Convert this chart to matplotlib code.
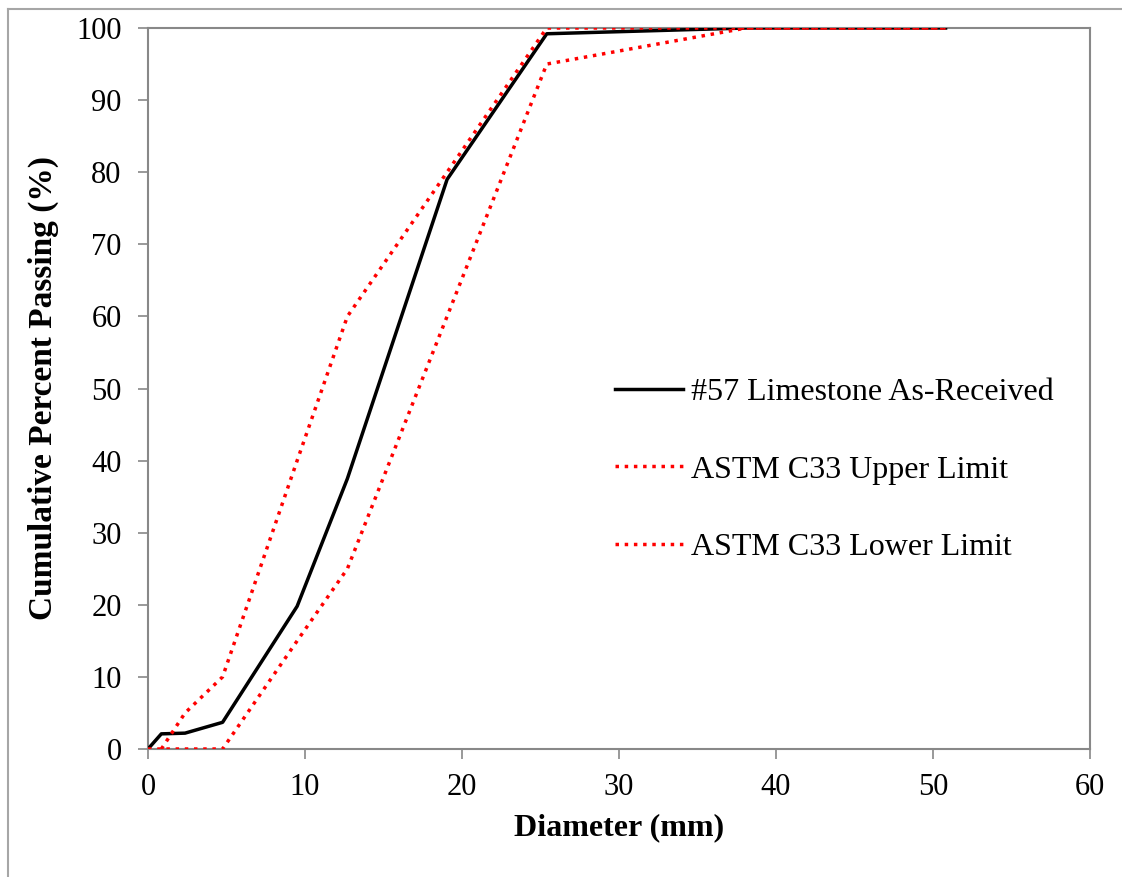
import matplotlib
matplotlib.use('Agg')
import matplotlib.pyplot as plt
from matplotlib.lines import Line2D

# sieve sizes (mm) and cumulative percent passing
limestone_d = [0, 0.85, 2.36, 4.75, 9.5, 12.7, 19.05, 25.4, 38.1, 50.8]
limestone_p = [0, 2.1, 2.2, 3.7, 19.8, 37.5, 79.0, 99.2, 100, 100]

upper_d = [0.85, 2.36, 4.75, 9.5, 12.7, 19.05, 25.4, 38.1, 50.8]
upper_p = [0, 5, 10, 40, 60, 80, 100, 100, 100]

lower_d = [0, 2.36, 4.75, 9.5, 12.7, 19.05, 25.4, 38.1, 50.8]
lower_p = [0, 0, 0, 15, 25, 60, 95, 100, 100]

plt.rcParams['font.family'] = ['Liberation Serif', 'DejaVu Serif']

fig = plt.figure(figsize=(11.22, 8.77), dpi=100)
ax = fig.add_axes([148/1122, 1 - 749/877, 942/1122, 721/877])

ax.plot(limestone_d, limestone_p, color='black', lw=2.5,
        label='#57 Limestone As-Received', zorder=3)
ax.plot(upper_d, upper_p, color='#ff0000', lw=2.5, linestyle=':',
        label='ASTM C33 Upper Limit', zorder=4)
ax.plot(lower_d, lower_p, color='#ff0000', lw=2.5, linestyle=':',
        label='ASTM C33 Lower Limit', zorder=4)

ax.set_xlim(0, 60)
ax.set_ylim(0, 100)
ax.set_xticks(range(0, 61, 10))
ax.set_yticks(range(0, 101, 10))

gray = '#888888'
for s in ax.spines.values():
    s.set_color(gray)
    s.set_linewidth(1.5)
ax.tick_params(axis='both', direction='out', length=7, width=1.2,
               color=gray, labelsize=22)
ax.tick_params(axis='y', pad=12)
ax.tick_params(axis='x', pad=10)

ax.set_xlabel('Diameter (mm)', fontsize=23, fontweight='bold', labelpad=8)
ax.set_ylabel('Cumulative Percent Passing (%)', fontsize=24,
              fontweight='bold', labelpad=12)

ax.legend(loc='center left', bbox_to_anchor=(0.465, 0.387), frameon=False,
          fontsize=23, handlelength=2.15, handletextpad=0.25,
          labelspacing=1.5)

# outer chart border
fig.add_artist(Line2D([7.5/1122, 7.5/1122], [0, 1 - 9/877],
                      color='#a6a6a6', lw=1.5))
fig.add_artist(Line2D([7.5/1122, 1], [1 - 9/877, 1 - 9/877],
                      color='#a6a6a6', lw=1.5))

fig.savefig('out.png', dpi=100)
